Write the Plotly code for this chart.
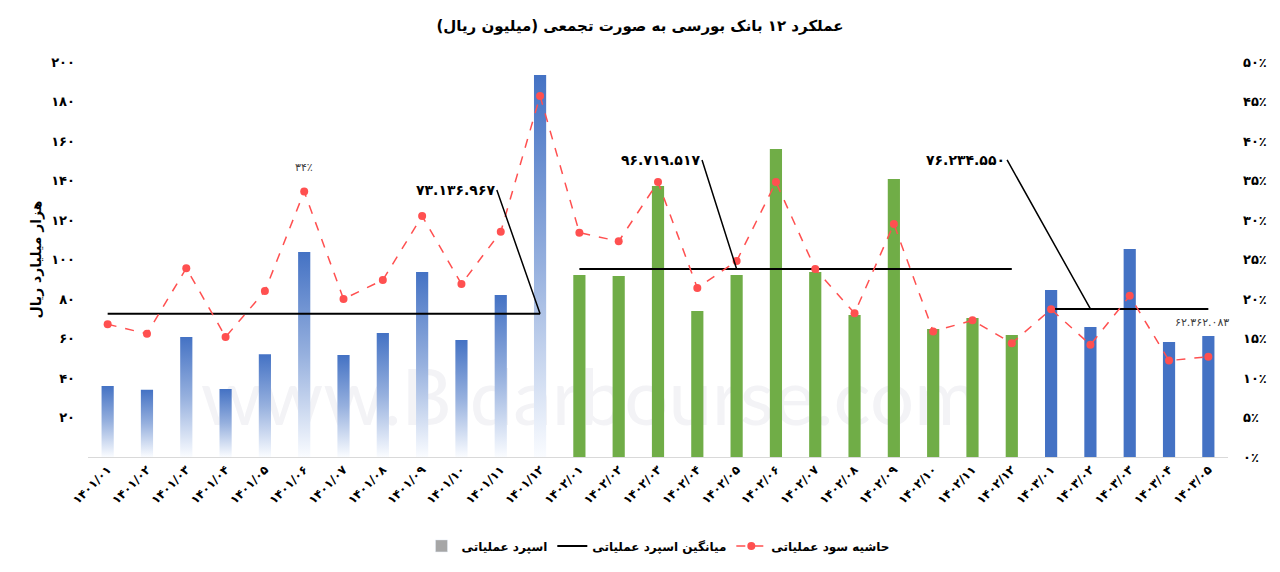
import plotly.graph_objects as go

P = str.maketrans("0123456789", "۰۱۲۳۴۵۶۷۸۹")
def fa(s):
    return str(s).translate(P)

months = ["01","02","03","04","05","06","07","08","09","10","11","12"]
categories = [fa(f"1401/{m}") for m in months] + [fa(f"1402/{m}") for m in months] + [fa(f"1403/{m}") for m in months[:5]]

spread_1401 = [36.0, 34.0, 60.8, 34.4, 52.0, 103.8, 51.6, 62.8, 93.7, 59.2, 82.0, 193.4]
spread_1402 = [92.2, 91.6, 137.2, 73.9, 92.2, 156.0, 93.7, 71.9, 140.8, 64.8, 70.4, 61.8]
spread_1403 = [84.6, 65.8, 105.3, 58.2, 61.3]

margin_pct = [16.8, 15.6, 23.9, 15.2, 21.0, 33.6, 20.0, 22.4, 30.5, 21.9, 28.5, 45.7,
              28.4, 27.3, 34.8, 21.4, 24.8, 34.8, 23.8, 18.2, 29.5, 15.9, 17.3, 14.4,
              18.7, 14.2, 20.4, 12.2, 12.7]

avg_values = [72.5, 95.2, 75.0]
avg_labels = ["۷۳.۱۳۶.۹۶۷", "۹۶.۷۱۹.۵۱۷", "۷۶.۲۳۴.۵۵۰"]

left_ticks = [20, 40, 60, 80, 100, 120, 140, 160, 180, 200]
right_ticks = [0, 5, 10, 15, 20, 25, 30, 35, 40, 45, 50]

BLUE = "#4472C4"
GREEN = "#70AD47"
RED = "#FF5050"
FONT = "DejaVu Sans"
BAR_W = 0.31

idx_1401 = list(range(0, 12))
idx_1402 = list(range(12, 24))
idx_1403 = list(range(24, 29))

fig = go.Figure()

# 1401 bars: gradient-filled rectangles
for i, v in zip(idx_1401, spread_1401):
    fig.add_trace(go.Scatter(
        x=[i - BAR_W / 2, i + BAR_W / 2, i + BAR_W / 2, i - BAR_W / 2, i - BAR_W / 2],
        y=[0, 0, v, v, 0],
        mode="lines", line=dict(width=0), fill="toself",
        fillgradient=dict(type="vertical",
                          colorscale=[[0, "rgb(250,252,255)"], [0.5, "rgb(150,176,222)"], [1, BLUE]]),
        showlegend=False, hoverinfo="skip", yaxis="y"))

fig.add_trace(go.Bar(x=idx_1402, y=spread_1402, width=BAR_W, marker=dict(color=GREEN, line=dict(width=0)),
                     showlegend=False, yaxis="y"))
fig.add_trace(go.Bar(x=idx_1403, y=spread_1403, width=BAR_W, marker=dict(color=BLUE, line=dict(width=0)),
                     showlegend=False, yaxis="y"))

# legend proxy for bars
fig.add_trace(go.Bar(x=[None], y=[None], marker=dict(color="#A6A6A6"), name="<b>اسپرد عملیاتی</b>",
                     showlegend=True, legendrank=1))

# average lines
groups = [idx_1401, idx_1402, idx_1403]
for k, (g, a) in enumerate(zip(groups, avg_values)):
    fig.add_trace(go.Scatter(x=[g[0], g[-1]], y=[a, a], mode="lines",
                             line=dict(color="black", width=2),
                             name="<b>میانگین اسپرد عملیاتی</b>", showlegend=(k == 0), legendrank=2,
                             yaxis="y"))

# margin line
fig.add_trace(go.Scatter(x=list(range(len(categories))), y=margin_pct, mode="lines+markers",
                         line=dict(color=RED, width=1.5, dash="dash"),
                         marker=dict(color=RED, size=8),
                         name="<b>حاشیه سود عملیاتی</b>", legendrank=3, yaxis="y2"))

# leader annotations
heads_x = [11, 16, 25]
tails_x = [9.9, 15.12, 22.88]
tail_y = [135.2, 150.4, 150.4]
for hx, tx, ty, a, lab in zip(heads_x, tails_x, tail_y, avg_values, avg_labels):
    fig.add_annotation(x=hx, y=a, xref="x", yref="y", ax=tx, ay=ty, axref="x", ayref="y",
                       text="<b>" + lab + "</b>", showarrow=True, arrowhead=0, arrowwidth=1.5,
                       arrowcolor="black", xanchor="right", yanchor="middle",
                       font=dict(family=FONT, size=14, color="black"))

fig.add_annotation(x=28, y=avg_values[2], xref="x", yref="y", text="۶۲.۳۶۲.۰۸۳", showarrow=False,
                   yshift=-14, xshift=-6, font=dict(family=FONT, size=11, color="#404040"))
fig.add_annotation(x=5, y=margin_pct[5], xref="x", yref="y2", text="۳۴٪", showarrow=False,
                   yshift=24, font=dict(family=FONT, size=11, color="#404040"))

# watermark
fig.add_shape(type="rect", xref="paper", yref="paper", x0=0.06, x1=0.82, y0=0.08, y1=0.24,
              line=dict(width=0), fillcolor="rgba(0,0,0,0)", layer="below",
              label=dict(text="www.Bidarbourse.com", textposition="middle center",
                         font=dict(family="Lato", size=78, color="rgb(243,243,246)")))

fig.update_layout(
    width=1280, height=572,
    paper_bgcolor="white", plot_bgcolor="white",
    margin=dict(l=88, r=52, t=62, b=115),
    title=dict(text="<b>عملکرد ۱۲ بانک بورسی به صورت تجمعی (میلیون ریال)\u200f</b>",
               x=0.5, xanchor="center", y=0.955, yanchor="middle",
               font=dict(family=FONT, size=15, color="black")),
    font=dict(family=FONT, color="black"),
    xaxis=dict(range=[-0.5, 28.5], tickmode="array", tickvals=list(range(len(categories))),
               ticktext=["<b>" + c + "</b>" for c in categories], tickangle=-45,
               tickfont=dict(family=FONT, size=12, color="black"),
               showgrid=False, zeroline=False, showline=True, linecolor="#D9D9D9", linewidth=1,
               ticks=""),
    yaxis=dict(range=[0, 200], tickmode="array", tickvals=left_ticks,
               ticktext=["<b>" + fa(t) + "</b>" for t in left_ticks],
               tickfont=dict(family=FONT, size=13, color="black"), showgrid=False, zeroline=False,
               ticklabelstandoff=12,
               title=dict(text="<b>هزار میلیارد ریال</b>", standoff=6,
                          font=dict(family=FONT, size=14, color="black"))),
    yaxis2=dict(range=[0, 50], overlaying="y", side="right", tickmode="array", tickvals=right_ticks,
                ticktext=["<b>" + fa(t) + "٪</b>" for t in right_ticks],
                tickfont=dict(family=FONT, size=13, color="black"), showgrid=False, zeroline=False,
                ticklabelstandoff=14),
    legend=dict(orientation="h", x=0.5, xanchor="center", y=-0.225, yanchor="middle",
                font=dict(family=FONT, size=12, color="black"), traceorder="normal"),
    bargap=0.69,
)

fig.write_html("out.html")
